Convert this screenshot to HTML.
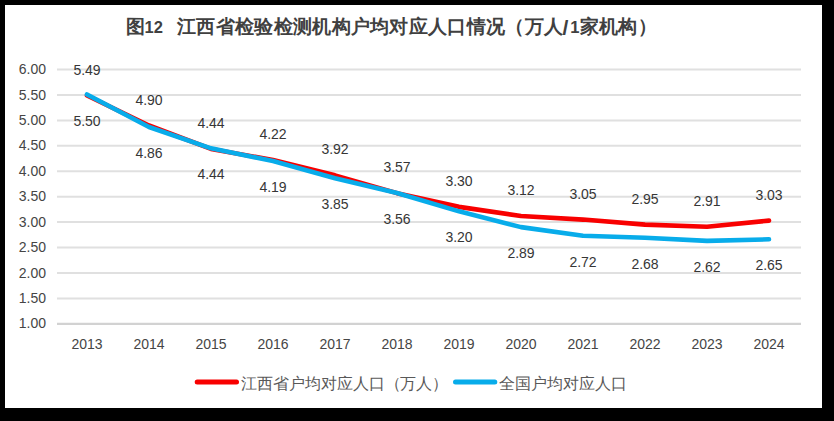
<!DOCTYPE html>
<html><head><meta charset="utf-8"><style>
html,body{margin:0;padding:0;background:#000;width:834px;height:421px;overflow:hidden}
#w{position:absolute;left:5px;top:5px;width:817px;height:403px;background:#fff}
svg{position:absolute;left:0;top:0}
text{font-family:"Liberation Sans",sans-serif}
.ax{font-size:14px;fill:#454545}
.dl{font-size:14px;fill:#363636}
.tn{font-size:16.5px;font-weight:bold;fill:#404040}
.tc{font-size:19px;font-weight:bold;fill:#404040}
.lg{font-size:16px;fill:#595959}
</style></head><body>
<div id="w"></div>
<svg width="834" height="421" viewBox="0 0 834 421">
<line x1="57" y1="69.60" x2="801" y2="69.60" stroke="#e0e0e0" stroke-width="2"/>
<line x1="57" y1="95.02" x2="801" y2="95.02" stroke="#e0e0e0" stroke-width="2"/>
<line x1="57" y1="120.44" x2="801" y2="120.44" stroke="#e0e0e0" stroke-width="2"/>
<line x1="57" y1="145.86" x2="801" y2="145.86" stroke="#e0e0e0" stroke-width="2"/>
<line x1="57" y1="171.28" x2="801" y2="171.28" stroke="#e0e0e0" stroke-width="2"/>
<line x1="57" y1="196.70" x2="801" y2="196.70" stroke="#e0e0e0" stroke-width="2"/>
<line x1="57" y1="222.12" x2="801" y2="222.12" stroke="#e0e0e0" stroke-width="2"/>
<line x1="57" y1="247.54" x2="801" y2="247.54" stroke="#e0e0e0" stroke-width="2"/>
<line x1="57" y1="272.96" x2="801" y2="272.96" stroke="#e0e0e0" stroke-width="2"/>
<line x1="57" y1="298.38" x2="801" y2="298.38" stroke="#e0e0e0" stroke-width="2"/>
<line x1="57" y1="323.80" x2="801" y2="323.80" stroke="#d2d2d2" stroke-width="2.2"/>
<text class="ax" x="46" y="74.20" text-anchor="end">6.00</text>
<text class="ax" x="46" y="99.62" text-anchor="end">5.50</text>
<text class="ax" x="46" y="125.04" text-anchor="end">5.00</text>
<text class="ax" x="46" y="150.46" text-anchor="end">4.50</text>
<text class="ax" x="46" y="175.88" text-anchor="end">4.00</text>
<text class="ax" x="46" y="201.30" text-anchor="end">3.50</text>
<text class="ax" x="46" y="226.72" text-anchor="end">3.00</text>
<text class="ax" x="46" y="252.14" text-anchor="end">2.50</text>
<text class="ax" x="46" y="277.56" text-anchor="end">2.00</text>
<text class="ax" x="46" y="302.98" text-anchor="end">1.50</text>
<text class="ax" x="46" y="328.40" text-anchor="end">1.00</text>
<text class="ax" x="87" y="349.3" text-anchor="middle">2013</text>
<text class="ax" x="149" y="349.3" text-anchor="middle">2014</text>
<text class="ax" x="211" y="349.3" text-anchor="middle">2015</text>
<text class="ax" x="273" y="349.3" text-anchor="middle">2016</text>
<text class="ax" x="335" y="349.3" text-anchor="middle">2017</text>
<text class="ax" x="397" y="349.3" text-anchor="middle">2018</text>
<text class="ax" x="459" y="349.3" text-anchor="middle">2019</text>
<text class="ax" x="521" y="349.3" text-anchor="middle">2020</text>
<text class="ax" x="583" y="349.3" text-anchor="middle">2021</text>
<text class="ax" x="645" y="349.3" text-anchor="middle">2022</text>
<text class="ax" x="707" y="349.3" text-anchor="middle">2023</text>
<text class="ax" x="769" y="349.3" text-anchor="middle">2024</text>
<polyline points="87,95.53 149,125.52 211,148.91 273,160.10 335,175.35 397,193.14 459,206.87 521,216.02 583,219.58 645,224.66 707,226.70 769,220.59" fill="none" stroke="#f80000" stroke-width="4.6" stroke-linejoin="round" stroke-linecap="round"/>
<polyline points="87,94.42 149,126.96 211,148.31 273,161.02 335,178.31 397,193.05 459,211.35 521,227.11 583,235.76 645,237.79 707,240.84 769,239.31" fill="none" stroke="#08acea" stroke-width="4.6" stroke-linejoin="round" stroke-linecap="round"/>
<text class="dl" x="87" y="74.53" text-anchor="middle">5.49</text>
<text class="dl" x="149" y="104.52" text-anchor="middle">4.90</text>
<text class="dl" x="211" y="127.91" text-anchor="middle">4.44</text>
<text class="dl" x="273" y="139.10" text-anchor="middle">4.22</text>
<text class="dl" x="335" y="154.35" text-anchor="middle">3.92</text>
<text class="dl" x="397" y="172.14" text-anchor="middle">3.57</text>
<text class="dl" x="459" y="185.87" text-anchor="middle">3.30</text>
<text class="dl" x="521" y="195.02" text-anchor="middle">3.12</text>
<text class="dl" x="583" y="198.58" text-anchor="middle">3.05</text>
<text class="dl" x="645" y="203.66" text-anchor="middle">2.95</text>
<text class="dl" x="707" y="205.70" text-anchor="middle">2.91</text>
<text class="dl" x="769" y="199.59" text-anchor="middle">3.03</text>
<text class="dl" x="87" y="125.52" text-anchor="middle">5.50</text>
<text class="dl" x="149" y="158.06" text-anchor="middle">4.86</text>
<text class="dl" x="211" y="179.41" text-anchor="middle">4.44</text>
<text class="dl" x="273" y="192.12" text-anchor="middle">4.19</text>
<text class="dl" x="335" y="209.41" text-anchor="middle">3.85</text>
<text class="dl" x="397" y="224.15" text-anchor="middle">3.56</text>
<text class="dl" x="459" y="242.45" text-anchor="middle">3.20</text>
<text class="dl" x="521" y="258.21" text-anchor="middle">2.89</text>
<text class="dl" x="583" y="266.86" text-anchor="middle">2.72</text>
<text class="dl" x="645" y="268.89" text-anchor="middle">2.68</text>
<text class="dl" x="707" y="271.94" text-anchor="middle">2.62</text>
<text class="dl" x="769" y="270.41" text-anchor="middle">2.65</text>
<text class="tc" x="135.50" y="32.7" text-anchor="middle">图</text>
<text class="tn" x="144.5" y="32.9">12</text>
<text class="tc" x="186.65 205.95 225.25 244.55 263.85 283.15 302.45 321.75 341.05 360.35 379.65 398.95 418.25 437.55 456.85 476.15 495.45 514.75 534.05 553.35" y="32.7" text-anchor="middle">江西省检验检测机构户均对应人口情况（万人</text>
<text class="tn" x="562.5" y="34.6" style="font-size:21px">/</text>
<text class="tn" x="570.2" y="32.9">1</text>
<text class="tc" x="589.15 608.45 627.75 647.05" y="32.7" text-anchor="middle">家机构）</text>
<line x1="197.2" y1="382" x2="236.5" y2="382" stroke="#f80000" stroke-width="5" stroke-linecap="round"/>
<text class="lg" x="249.45 265.35 281.25 297.15 313.05 328.95 344.85 360.75 376.65 392.55 408.45 424.35 440.25" y="388.5" text-anchor="middle">江西省户均对应人口（万人）</text>
<line x1="455.5" y1="382" x2="494.8" y2="382" stroke="#08acea" stroke-width="5" stroke-linecap="round"/>
<text class="lg" x="507.45 523.35 539.25 555.15 571.05 586.95 602.85 618.75" y="388.5" text-anchor="middle">全国户均对应人口</text>
</svg>
</body></html>
